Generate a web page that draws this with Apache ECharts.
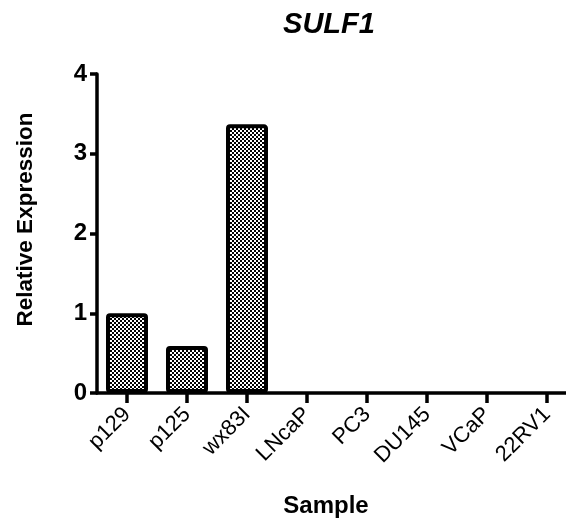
<!DOCTYPE html>
<html>
<head>
<meta charset="utf-8">
<title>SULF1</title>
<script src="https://cdn.jsdelivr.net/npm/echarts@6/dist/echarts.min.js"></script>
<style>
  html, body { margin: 0; padding: 0; background: #fff; }
  #chart { width: 566px; height: 524px; }
</style>
</head>
<body>
<div id="chart"></div>
<script>
// data
var samples = ['p129', 'p125', 'wx83I', 'LNcaP', 'PC3', 'DU145', 'VCaP', '22RV1'];
var expression = [1.0, 0.59, 3.37, 0, 0, 0, 0, 0];
var yTicks = [0, 1, 2, 3, 4];

// checkerboard fill like the original
var tile = document.createElement('canvas');
tile.width = 4; tile.height = 4;
var tctx = tile.getContext('2d');
tctx.fillStyle = '#fff';
tctx.fillRect(0, 0, 4, 4);
tctx.fillStyle = '#000';
tctx.fillRect(0, 0, 2, 2);
tctx.fillRect(2, 2, 2, 2);

var font = '"Liberation Sans", Arial, sans-serif';
var chart = echarts.init(document.getElementById('chart'));

chart.setOption({
    animation: false,
    title: {
        text: 'SULF1',
        left: 324,
        textAlign: 'center',
        top: 5,
        textStyle: { fontFamily: font, fontSize: 29, fontWeight: 'bold', fontStyle: 'italic', color: '#000' }
    },
    grid: { left: 97, top: 74, width: 480, height: 319, containLabel: false, outerBoundsMode: 'none' },
    xAxis: {
        type: 'category',
        data: samples,
        name: 'Sample',
        nameLocation: 'middle',
        nameGap: 101,
        nameTextStyle: { fontFamily: font, fontSize: 24, fontWeight: 'bold', color: '#000', padding: [0, 0, 0, -22] },
        axisLine: { lineStyle: { color: '#000', width: 3.5 } },
        axisTick: { show: true, interval: 0, alignWithLabel: true, length: 10, lineStyle: { color: '#000', width: 3.5 } },
        axisLabel: { interval: 0, rotate: 45, margin: 18, fontFamily: font, fontSize: 22, color: '#000' }
    },
    yAxis: {
        type: 'value',
        min: yTicks[0],
        max: yTicks[yTicks.length - 1],
        interval: 1,
        name: 'Relative Expression',
        nameLocation: 'middle',
        nameGap: 60,
        nameTextStyle: { fontFamily: font, fontSize: 22.5, fontWeight: 'bold', color: '#000', padding: [0, 0, 0, 28] },
        axisLine: { show: true, lineStyle: { color: '#000', width: 3.5 } },
        axisTick: { show: true, length: 7, lineStyle: { color: '#000', width: 3.5 } },
        axisLabel: { margin: 10, fontFamily: font, fontSize: 24, fontWeight: 'bold', color: '#000' },
        splitLine: { show: false }
    },
    series: [{
        type: 'bar',
        // zero values draw no bar in the original
        data: expression.map(function (v) { return v === 0 ? null : v; }),
        barWidth: 42,
        itemStyle: {
            color: { image: tile, repeat: 'repeat' },
            borderColor: '#000',
            borderWidth: 4,
            borderRadius: 2
        }
    }]
});
</script>
</body>
</html>
